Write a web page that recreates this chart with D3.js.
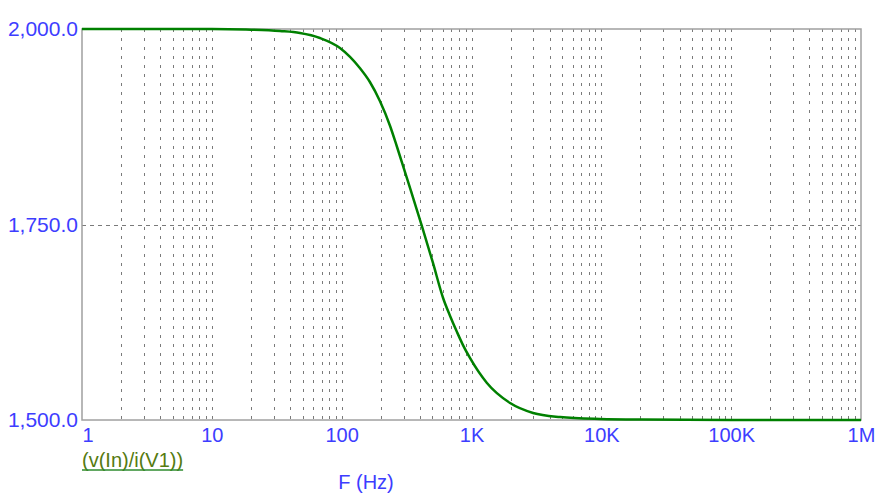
<!DOCTYPE html>
<html>
<head>
<meta charset="utf-8">
<script src="https://cdn.jsdelivr.net/npm/d3@7/dist/d3.min.js"></script>
<style>
  html, body { margin: 0; padding: 0; background: #fff; }
  svg { display: block; }
  text { font-family: Arial, "Liberation Sans", sans-serif; }
</style>
</head>
<body>
<svg id="chart" width="888" height="499"></svg>
<script>
// ---- data ----
const freqs  = [1, 5, 10, 18, 33.5, 47.7, 68, 97, 138, 165, 197, 236, 267, 336, 415, 505, 604, 684, 773, 860, 973, 1315, 1982, 2980, 4810, 9770, 20000, 100000, 1000000];
const values = [2000, 2000, 2000, 1999.4, 1997.4, 1994.9, 1988.5, 1975.7, 1950.1, 1932.2, 1907.9, 1876.0, 1849.1, 1796.7, 1748, 1700.8, 1656.0, 1633.0, 1612.5, 1595.8, 1579.3, 1547.3, 1521.7, 1509, 1503.8, 1501.3, 1500.5, 1500, 1500];
const xTickValues = [1, 10, 100, 1000, 10000, 100000, 1000000];
const xTickLabels = ["1", "10", "100", "1K", "10K", "100K", "1M"];
const yTickValues = [1500, 1750, 2000];
const yTickLabels = ["1,500.0", "1,750.0", "2,000.0"];
const seriesName = "(v(In)/i(V1))";
const xTitle = "F (Hz)";

// ---- layout ----
const plotL = 82, plotR = 861, plotT = 29, plotB = 420;
const svg = d3.select("#chart");
const x = d3.scaleLog().domain([1, 1e6]).range([plotL, plotR]);
const y = d3.scaleLinear().domain([1500, 2000]).range([plotB, plotT]);

const labelColor = "#3d3dff";
const gridColor = "#7a7a7a";

// vertical minor/major grid lines
const gridX = [];
for (let d = 1; d < 1e6; d *= 10) {
  for (let k = 1; k <= 9; k++) {
    const v = k * d;
    if (v > 1 && v < 1e6) gridX.push(v);
  }
}
svg.append("g").selectAll("line").data(gridX).join("line")
  .attr("x1", d => Math.round(x(d)) + 0.5).attr("x2", d => Math.round(x(d)) + 0.5)
  .attr("y1", plotT).attr("y2", plotB)
  .attr("stroke", gridColor).attr("stroke-width", 1)
  .attr("stroke-dasharray", "3,6");

// horizontal grid
svg.append("g").selectAll("line").data([1750]).join("line")
  .attr("x1", plotL).attr("x2", plotR)
  .attr("y1", d => Math.round(y(d)) + 0.5).attr("y2", d => Math.round(y(d)) + 0.5)
  .attr("stroke", gridColor).attr("stroke-width", 1)
  .attr("stroke-dasharray", "4,4");

// frame
svg.append("rect")
  .attr("x", plotL).attr("y", plotT)
  .attr("width", plotR - plotL).attr("height", plotB - plotT)
  .attr("fill", "none").attr("stroke", "#a0a0a0").attr("stroke-width", 1.5);

// axes
const xAxis = d3.axisBottom(x)
  .tickValues(xTickValues)
  .tickFormat((d, i) => xTickLabels[i])
  .tickSize(0).tickPadding(8);
const gx = svg.append("g").attr("transform", `translate(0,${plotB})`).call(xAxis);
gx.select(".domain").remove();
gx.selectAll("text")
  .attr("fill", labelColor).style("font-size", "20px")
  .attr("text-anchor", (d, i) => i === 0 ? "start" : "middle");

const yAxis = d3.axisLeft(y)
  .tickValues(yTickValues)
  .tickFormat((d, i) => yTickLabels[i])
  .tickSize(0).tickPadding(4);
const gy = svg.append("g").attr("transform", `translate(${plotL},0)`).call(yAxis);
gy.select(".domain").remove();
gy.selectAll("text").attr("fill", labelColor).style("font-size", "21px");

// curve
const pts = freqs.map((f, i) => [f, values[i]]);
svg.append("path")
  .datum(pts)
  .attr("fill", "none")
  .attr("stroke", "#008000")
  .attr("stroke-width", 2.5)
  .attr("d", d3.line().x(d => x(d[0])).y(d => y(d[1])).curve(d3.curveMonotoneX));

// legend
const leg = svg.append("text")
  .attr("x", plotL).attr("y", 467)
  .attr("fill", "#557a10").style("font-size", "20px")
  .text(seriesName);
const lw = leg.node().getComputedTextLength();
svg.append("line")
  .attr("x1", plotL).attr("x2", plotL + lw)
  .attr("y1", 470).attr("y2", 470)
  .attr("stroke", "#2e8b2e").attr("stroke-width", 1.5);

// x title
svg.append("text")
  .attr("x", 366).attr("y", 489)
  .attr("text-anchor", "middle")
  .attr("fill", labelColor).style("font-size", "20px")
  .text(xTitle);
</script>
</body>
</html>
